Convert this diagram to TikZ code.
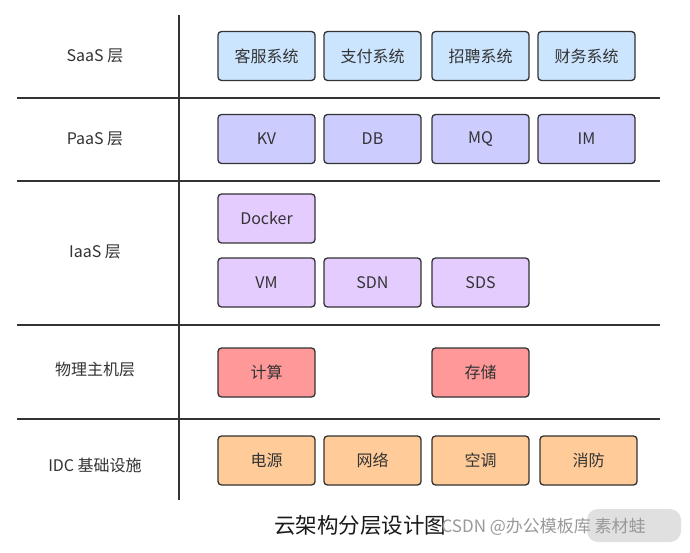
\documentclass[tikz,border=0pt]{standalone}
\usepackage{fontspec}
\setmainfont{Noto Sans CJK SC}
\newfontfamily\cjk{Noto Sans CJK SC}
\begin{document}
\begin{tikzpicture}[x=1pt,y=-1pt,
  every node/.style={font=\cjk\fontsize{16}{18}\selectfont, text=black!80},
  blk/.style={draw=black!80, line width=1.3pt, rounded corners=3.5pt, minimum width=97pt, minimum height=49pt, inner sep=0pt},
  saas/.style={blk, fill=saascol},
  paas/.style={blk, fill=paascol},
  iaas/.style={blk, fill=iaascol},
  phys/.style={blk, fill=physcol},
  idc/.style={blk, fill=idccol},
  sep/.style={draw=black!80, line width=1.3pt},
  lbl/.style={text=black!80}
]
\definecolor{saascol}{HTML}{CCE5FF}
\definecolor{paascol}{HTML}{CCCCFF}
\definecolor{iaascol}{HTML}{E5CCFF}
\definecolor{physcol}{HTML}{FF9999}
\definecolor{idccol}{HTML}{FFCC99}
\useasboundingbox[fill=white] (0,0) rectangle (690,553);

% grid lines
\coordinate (vt) at (179,15);
\coordinate (vb) at (179,500);
\draw[sep] (vt) -- (vb);
\foreach \yy/\nm in {98/a,181/b,325/c,419/d}{
  \coordinate (l\nm) at (17,\yy);
  \coordinate (r\nm) at (660,\yy);
  \draw[sep] (l\nm) -- (r\nm);
}

% left labels
\node[lbl] (ls) at (95,56) {SaaS 层};
\node[lbl] (lp) at (95,139) {PaaS 层};
\node[lbl] (li) at (95,252) {IaaS 层};
\node[lbl] (lh) at (95,369) {物理主机层};
\node[lbl] (ld) at (95,465) {IDC 基础设施};

% SaaS
\node[saas] (s1) at (266.5,56) {客服系统};
\node[saas] (s2) at (372.5,56) {支付系统};
\node[saas] (s3) at (480.5,56) {招聘系统};
\node[saas] (s4) at (586.5,56) {财务系统};
% PaaS
\node[paas] (p1) at (266.5,139) {KV};
\node[paas] (p2) at (372.5,139) {DB};
\node[paas] (p3) at (480.5,139) {MQ};
\node[paas] (p4) at (586.5,139) {IM};
% IaaS
\node[iaas] (i0) at (266.5,218.5) {Docker};
\node[iaas] (i1) at (266.5,282.5) {VM};
\node[iaas] (i2) at (372.5,282.5) {SDN};
\node[iaas] (i3) at (480.5,282.5) {SDS};
% physical
\node[phys] (h1) at (266.5,372.5) {计算};
\node[phys] (h2) at (480.5,372.5) {存储};
% IDC
\node[idc] (d1) at (266.5,460.5) {电源};
\node[idc] (d2) at (372.5,460.5) {网络};
\node[idc] (d3) at (480.5,460.5) {空调};
\node[idc] (d4) at (588.5,460.5) {消防};

% title
\node[font=\cjk\fontsize{21.5}{24}\selectfont, text=black!90] (title) at (360,525) {云架构分层设计图};
% watermark
\fill[black!12, rounded corners=11pt] (587,509) rectangle (681,542);
\node[font=\cjk\fontsize{17}{19}\selectfont, text=black!40, anchor=west] (wm) at (438,527) {CSDN @办公模板库 素材蛙};
\end{tikzpicture}
\end{document}
